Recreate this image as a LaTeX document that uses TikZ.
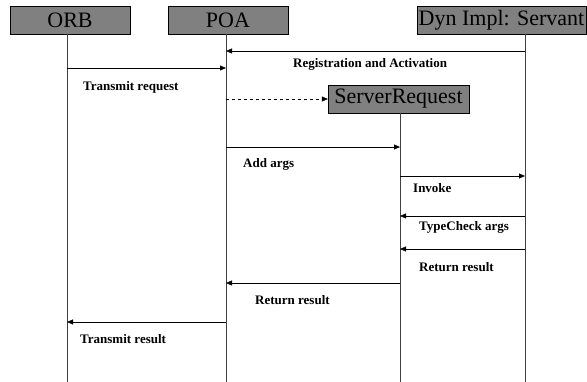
\documentclass[tikz,border=0pt]{standalone}
\usepackage{fontspec}
\setmainfont{Liberation Serif}
\usetikzlibrary{arrows.meta}
\definecolor{boxgray}{RGB}{128,128,128}

\begin{document}
\begin{tikzpicture}[x=1pt,y=-1pt,
  obj/.style={draw,fill=boxgray,minimum height=28pt,inner sep=0pt,font=\fontsize{22}{22}\selectfont},
  msg/.style={-{Triangle[length=6pt,width=5pt]},thin},
  lbl/.style={anchor=west,inner sep=0pt,font=\fontsize{13}{13}\selectfont\bfseries}]
\useasboundingbox (0,0) rectangle (587,382);
% objects
\node[obj,minimum width=120pt] (orb) at (70,20) {ORB};
\node[obj,minimum width=120pt] (poa) at (228,20) {POA};
\node[obj,minimum width=169pt] (dyn) at (501.5,20) {Dyn Impl: Servant};
\node[obj,minimum width=141pt] (sr) at (398.5,99) {ServerRequest};
% lifelines
\coordinate (orbL) at (67,34);
\coordinate (poaL) at (226,34);
\coordinate (dynL) at (525,34);
\coordinate (srL) at (400,113);
\coordinate (bot) at (0,382);
\foreach \l in {orbL,poaL,dynL,srL}
    { \draw[black!75] (\l) -- (\l |- bot); }
% messages
\foreach \a/\b/\y/\lx/\ly/\t in {dynL/poaL/51/293/64/Registration and Activation,
    orbL/poaL/68/83/87/Transmit request,
    poaL/srL/147/243/164/Add args,
    srL/dynL/176/413/188/Invoke,
    dynL/srL/216/419/227/TypeCheck args,
    dynL/srL/249/419/267/Return result,
    srL/poaL/283/255/300/Return result,
    poaL/orbL/322/80/339/Transmit result}
    { \coordinate (m) at (0,\y);
      \draw[msg] (\a |- m) -- (\b |- m);
      \node[lbl] at (\lx,\ly) {\t}; }
\draw[msg,dashed] (poaL |- sr.west) -- (sr.west);
\end{tikzpicture}
\end{document}
